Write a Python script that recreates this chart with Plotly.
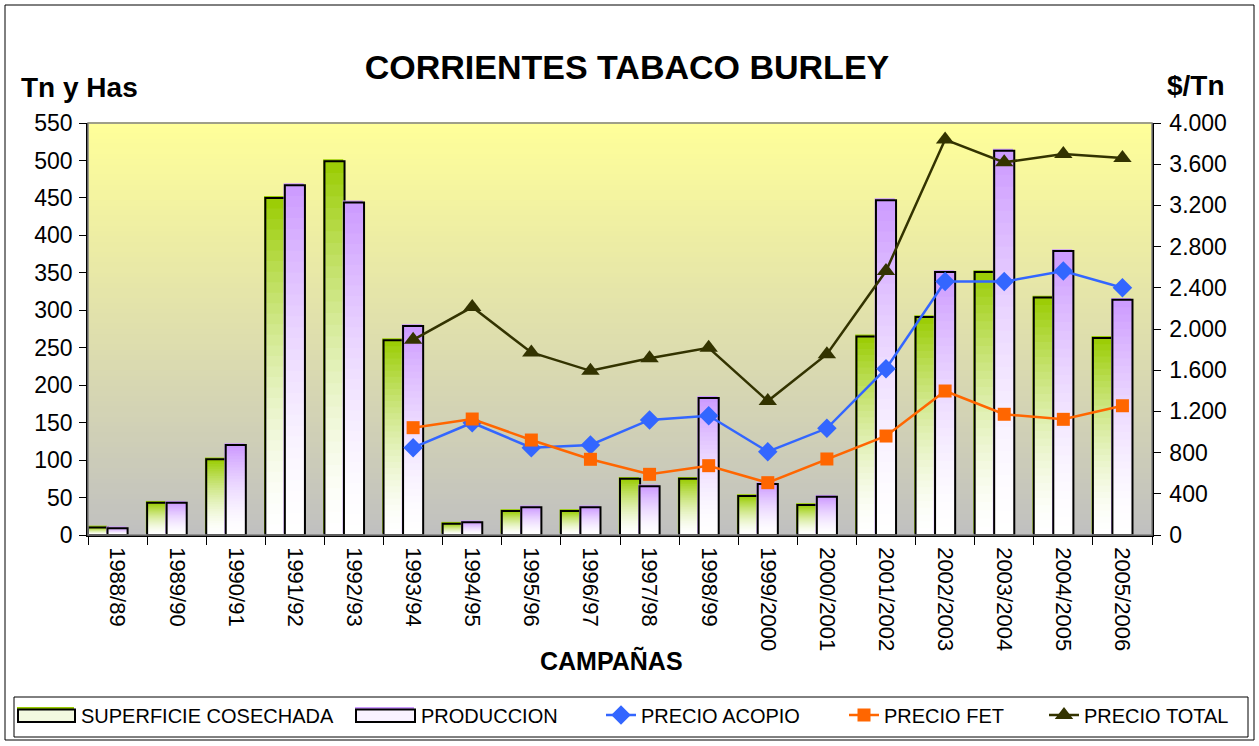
import plotly.graph_objects as go

campanas = ["1988/89", "1989/90", "1990/91", "1991/92", "1992/93", "1993/94",
            "1994/95", "1995/96", "1996/97", "1997/98", "1998/99", "1999/2000",
            "2000/2001", "2001/2002", "2002/2003", "2003/2004", "2004/2005", "2005/2006"]
superficie = [10, 43, 101, 450, 499, 260, 15, 32, 32, 75, 75, 52, 40, 265, 291, 351, 317, 263]
produccion = [9, 43, 120, 467, 444, 279, 17, 37, 37, 65, 183, 68, 51, 447, 351, 513, 379, 314]
precio_acopio = [None, None, None, None, None, 848, 1090, 848, 874, 1117, 1158, 809, 1036,
                 1615, 2460, 2460, 2563, 2401]
precio_fet = [None, None, None, None, None, 1042, 1126, 922, 735, 589, 673, 508, 738,
              961, 1398, 1172, 1123, 1255]
precio_total = [None, None, None, None, None, 1895, 2213, 1772, 1594, 1716, 1818, 1300, 1755,
                2563, 3840, 3618, 3700, 3660]

FONT = "Liberation Sans, Arial, sans-serif"
GREEN = (153, 204, 0)
PURPLE = (204, 153, 255)


def rgb(c):
    return f"rgb({c[0]},{c[1]},{c[2]})"


def mix(c, f):
    return rgb([round(255 + (ci - 255) * f) for ci in c])


def px_x(p):
    return (p - 88) / 1064.0


def px_y(p):
    return (535 - p) / 412.0


fig = go.Figure()

# gradient bars, drawn as successively shorter bars from each value
N = 32
BW = 0.34
for vals, col, off in [(superficie, GREEN, -0.5), (produccion, PURPLE, -0.17)]:
    # coloured edge (shadow) slightly up-left
    fig.add_bar(x=campanas, y=vals, base=2.5, offset=off - 0.022, width=BW,
                marker=dict(color=rgb(col), line=dict(width=0)),
                showlegend=False, hoverinfo="skip")
    for k in range(N):
        frac = (N - k) / N
        t = (N - k - 0.5) / N
        f = t ** 1.6
        fig.add_bar(x=campanas, y=[v * frac for v in vals], offset=off, width=BW,
                    marker=dict(color=mix(col, f), line=dict(width=0)),
                    showlegend=False, hoverinfo="skip")
    fig.add_bar(x=campanas, y=vals, offset=off, width=BW,
                marker=dict(color="rgba(0,0,0,0)", line=dict(color="black", width=2)),
                showlegend=False, hoverinfo="skip")

# legend-only entries for the bar series (icons drawn as shapes below)
fig.add_bar(x=[None], y=[None], name="SUPERFICIE COSECHADA", legend="legend",
            marker=dict(color="rgba(0,0,0,0)", line=dict(width=0)))
fig.add_bar(x=[None], y=[None], name="PRODUCCION", legend="legend2",
            marker=dict(color="rgba(0,0,0,0)", line=dict(width=0)))

fig.add_scatter(x=campanas, y=precio_acopio, yaxis="y2", name="PRECIO ACOPIO", legend="legend3",
                mode="lines+markers", line=dict(color="#3366FF", width=2.5),
                marker=dict(symbol="diamond", size=15, color="#3366FF"))
fig.add_scatter(x=campanas, y=precio_fet, yaxis="y2", name="PRECIO FET", legend="legend4",
                mode="lines+markers", line=dict(color="#FF6600", width=2.5),
                marker=dict(symbol="square", size=13, color="#FF6600"))
fig.add_scatter(x=campanas, y=precio_total, yaxis="y2", name="PRECIO TOTAL", legend="legend5",
                mode="lines+markers", line=dict(color="#333300", width=2.5),
                marker=dict(symbol="triangle-up", size=16, color="#333300"))

# plot area gradient background
shapes = []
M = 80
top = (255, 255, 153)
bot = (192, 192, 192)
for i in range(M):
    t = (i + 0.5) / M
    c = [round(bot[j] + (top[j] - bot[j]) * t) for j in range(3)]
    shapes.append(dict(type="rect", xref="paper", yref="paper", x0=0, x1=1,
                       y0=i / M, y1=(i + 1) / M + 0.002, layer="below",
                       line=dict(width=0), fillcolor=rgb(c)))
shapes.append(dict(type="rect", xref="paper", yref="paper", x0=0, x1=1, y0=0, y1=1,
                   layer="above", line=dict(color="#808080", width=1.5)))
# outer chart border
shapes.append(dict(type="rect", xref="paper", yref="paper", x0=px_x(5), x1=px_x(1254),
                   y0=px_y(740), y1=px_y(5), line=dict(color="black", width=1)))
# legend box
shapes.append(dict(type="rect", xref="paper", yref="paper", x0=px_x(14), x1=px_x(1248),
                   y0=px_y(737), y1=px_y(697), line=dict(color="black", width=1)))
# legend icons for bar series
for (x0, x1), col in [((18, 75), GREEN), ((356, 415), PURPLE)]:
    shapes.append(dict(type="rect", xref="paper", yref="paper", x0=px_x(x0 - 1), x1=px_x(x1 - 1),
                       y0=px_y(720), y1=px_y(707), line=dict(width=0), fillcolor=rgb(col)))
    shapes.append(dict(type="rect", xref="paper", yref="paper", x0=px_x(x0), x1=px_x(x1),
                       y0=px_y(722), y1=px_y(709.5), line=dict(color="black", width=2),
                       fillcolor=mix(col, 0.12)))

annotations = [
    dict(text="<b>Tn y Has</b>", xref="paper", yref="paper", x=px_x(19), y=px_y(87),
         xanchor="left", yanchor="middle", showarrow=False, font=dict(size=28, family=FONT, color="black")),
    dict(text="<b>$/Tn</b>", xref="paper", yref="paper", x=px_x(1165), y=px_y(85),
         xanchor="left", yanchor="middle", showarrow=False, font=dict(size=28, family=FONT, color="black")),
    dict(text="<b>CAMPAÑAS</b>", xref="paper", yref="paper", x=px_x(611), y=px_y(660),
         xanchor="center", yanchor="middle", showarrow=False, font=dict(size=25, family=FONT, color="black")),
]


def leg(text_start):
    return dict(orientation="h", x=px_x(text_start - 41), xanchor="left", y=px_y(715),
                yanchor="middle", font=dict(size=20, family=FONT, color="black"),
                bgcolor="rgba(0,0,0,0)", borderwidth=0)


fig.update_layout(
    width=1259, height=746,
    margin=dict(l=88, r=107, t=123, b=211),
    paper_bgcolor="white", plot_bgcolor="#DDDDAA",
    separators=",.",
    barmode="overlay",
    font=dict(family=FONT, color="black"),
    title=dict(text="<b>CORRIENTES TABACO BURLEY</b>", x=627 / 1259, xanchor="center",
               y=1 - 67 / 746, yanchor="middle", font=dict(size=34, family=FONT, color="black")),
    xaxis=dict(type="category", range=[-0.5, 17.5], tickangle=90, ticks="outside",
               tickson="boundaries", ticklen=8, tickcolor="black", showline=True,
               linecolor="black", linewidth=1.5, showgrid=False, ticklabelstandoff=6,
               tickfont=dict(size=22, family=FONT, color="black")),
    yaxis=dict(range=[0, 550], dtick=50, ticks="outside", ticklen=7, tickcolor="black",
               showline=True, linecolor="black", linewidth=1.5, showgrid=False, zeroline=False,
               ticklabelstandoff=2,
               tickfont=dict(size=23, family=FONT, color="black")),
    yaxis2=dict(range=[0, 4000], dtick=400, tickformat=",d", overlaying="y", side="right",
                ticks="outside", ticklen=7, tickcolor="black", showline=True, linecolor="black",
                linewidth=1.5, showgrid=False, zeroline=False, ticklabelstandoff=4,
                tickfont=dict(size=23, family=FONT, color="black")),
    legend=leg(82),
    legend2=leg(422),
    legend3=leg(642),
    legend4=leg(885),
    legend5=leg(1085),
    shapes=shapes,
    annotations=annotations,
    showlegend=True,
)

fig.write_html("out.html", config={"displayModeBar": False},
               post_script="document.body.style.margin='0';document.body.style.overflow='hidden';")
